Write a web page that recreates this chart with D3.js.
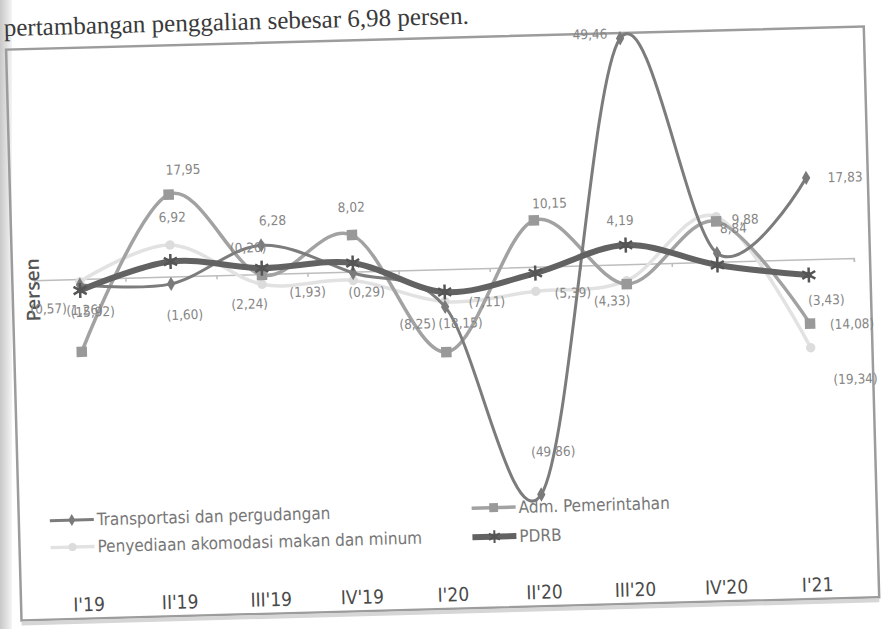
<!DOCTYPE html>
<html>
<head>
<meta charset="utf-8">
<script src="https://cdn.jsdelivr.net/npm/d3@7"></script>
<style>
  html, body { margin: 0; padding: 0; background: #fff; }
  svg { display: block; }
</style>
</head>
<body>
<svg id="chart" width="885" height="629"></svg>
<script>
// Quarterly growth (q-to-q, %) by sector
const categories = ["I'19", "II'19", "III'19", "IV'19", "I'20", "II'20", "III'20", "IV'20", "I'21"];
const transportasi = [-1.26, -1.60, 6.28, -0.29, -8.25, -49.86, 49.46, 1.88, 17.83];
const penyediaan   = [-0.57, 6.92, -2.24, -1.93, -7.11, -5.39, -3.60, 9.88, -19.34];
const admPemerintahan = [-15.92, 17.95, -0.20, 8.02, -18.15, 10.15, -4.33, 8.84, -14.08];
const pdrb = [-2.50, 3.30, 1.30, 1.90, -5.00, -1.40, 4.19, -0.70, -3.43];
const seriesNames = ["Transportasi dan pergudangan", "Penyediaan akomodasi makan dan minum", "Adm. Pemerintahan", "PDRB"];

// where each value label sits relative to its marker (null = no label)
const labelNudge = {
  transportasi: [[4, 25], [13, 31], [12, -25], [13, 19], [-28, 16], [13, -43], [-30, -5], null, [39, 0]],
  penyediaan: [[-32, 26], [3, -28], [-13, 19], [-46, 10], [42, 1], [37, 2], null, [29, 3], [44, 32]],
  adm: [[12, -40], [15, -25], [-13, -28], [0, -28], [15, -29], [16, -17], [-15, 16], [17, 7], [42, 1]],
  pdrb: [null, null, null, null, null, null, [-5, -25], null, [17, 25]]
};

const svg = d3.select("#chart");
const W = 885, H = 629;
const narrow = "'Liberation Sans Narrow','DejaVu Sans Condensed','Arial Narrow',sans-serif";

// paper shading at the left edge
const defs = svg.append("defs");
const grad = defs.append("linearGradient").attr("id", "edge").attr("x1", 0).attr("x2", 1);
grad.append("stop").attr("offset", 0).attr("stop-color", "#c8c8c8");
grad.append("stop").attr("offset", 1).attr("stop-color", "#f4f4f4");
svg.append("rect").attr("width", W).attr("height", H).attr("fill", "#fff");
svg.append("rect").attr("x", 0).attr("y", 0).attr("width", 12).attr("height", H).attr("fill", "url(#edge)");

// running text of the page above the figure
svg.append("text")
  .attr("x", 4).attr("y", 36)
  .attr("transform", "rotate(-1.5, 4, 36)")
  .attr("font-family", "'Liberation Serif','DejaVu Serif',serif")
  .attr("font-size", 25)
  .attr("fill", "#3a3a3a")
  .text("pertambangan penggalian sebesar 6,98 persen.");

const g = svg.append("g").attr("transform", "rotate(-1.55, 440, 300)");

// frame
g.append("rect").attr("x", 13).attr("y", 38).attr("width", 858).attr("height", 571)
  .attr("fill", "none").attr("stroke", "#9c9c9c").attr("stroke-width", 2.5);
g.append("line").attr("x1", 13).attr("x2", 871).attr("y1", 612).attr("y2", 612)
  .attr("stroke", "#d6d6d6").attr("stroke-width", 4);

const x = d3.scalePoint().domain(categories).range([80.5, 809.3]);
const y = d3.scaleLinear().domain([-50, 50]).range([269.3 + 228.5, 269.3 - 228.5]);
const xEdge = d3.scaleLinear().domain([0, categories.length]).range([35, 854.8]);

// zero axis with category-boundary ticks
const zeroAxis = g.append("g").attr("transform", `translate(0,${y(0)})`)
  .call(d3.axisBottom(xEdge).ticks(categories.length).tickFormat("").tickSizeInner(4).tickSizeOuter(4));
zeroAxis.selectAll("path, line").attr("stroke", "#bdbdbd").attr("stroke-width", 1.5);

// category labels along the bottom
const catAxis = g.append("g").attr("transform", "translate(0,585)")
  .call(d3.axisBottom(x).tickSize(0));
catAxis.select(".domain").remove();
catAxis.selectAll("text")
  .attr("font-family", narrow).attr("font-size", 19).attr("fill", "#4a4a4a");

// axis title
g.append("text")
  .attr("transform", "translate(40,279) rotate(-90)")
  .attr("text-anchor", "middle")
  .attr("font-family", "'Open Sans','DejaVu Sans',sans-serif")
  .attr("font-weight", 600)
  .attr("font-size", 19)
  .attr("fill", "#555")
  .text("Persen");

const fmt = v => {
  const s = d3.format(".2f")(Math.abs(v)).replace(".", ",");
  return v < 0 ? `(${s})` : s;
};

const line = d3.line()
  .x((d, i) => x(categories[i]))
  .y(d => y(d))
  .curve(d3.curveCatmullRom.alpha(0));

const series = [
  { key: "penyediaan", values: penyediaan, color: "#e2e2e2", width: 3.5, symbol: d3.symbolCircle, size: 70, marker: "#dcdcdc" },
  { key: "adm", values: admPemerintahan, color: "#a2a2a2", width: 3.5, symbol: d3.symbolSquare, size: 110, marker: "#999" },
  { key: "transportasi", values: transportasi, color: "#7c7c7c", width: 3, symbol: d3.symbolDiamond, size: 60, marker: "#7a7a7a" },
  { key: "pdrb", values: pdrb, color: "#626262", width: 6, symbol: d3.symbolAsterisk, size: 160, marker: "#555", stroked: true }
];

series.forEach(s => {
  g.append("path").datum(s.values)
    .attr("d", line)
    .attr("fill", "none")
    .attr("stroke", s.color)
    .attr("stroke-width", s.width)
    .attr("stroke-linecap", "round");
  const sym = d3.symbol().type(s.symbol).size(s.size);
  g.append("g").selectAll("path").data(s.values).join("path")
    .attr("transform", (d, i) => `translate(${x(categories[i])},${y(d)})`)
    .attr("d", sym)
    .attr("fill", s.stroked ? "none" : s.marker)
    .attr("stroke", s.stroked ? s.marker : "none")
    .attr("stroke-width", s.stroked ? 2.5 : 0);
});

// value labels
series.forEach(s => {
  const nudges = labelNudge[s.key];
  g.append("g").selectAll("text")
    .data(s.values.map((v, i) => ({ v, i, n: nudges[i] })).filter(d => d.n))
    .join("text")
    .attr("x", d => x(categories[d.i]) + d.n[0])
    .attr("y", d => y(d.v) + d.n[1])
    .attr("text-anchor", "middle")
    .attr("dominant-baseline", "central")
    .attr("font-family", narrow)
    .attr("font-size", 13.5)
    .attr("fill", "#858585")
    .text(d => fmt(d.v));
});

// legend
const legendItems = [
  { name: seriesNames[0], s: series[2], x: 44, y: 510 },
  { name: seriesNames[1], s: series[0], x: 44, y: 537 },
  { name: seriesNames[2], s: series[1], x: 466, y: 509 },
  { name: seriesNames[3], s: series[3], x: 466, y: 538 }
];
const lg = g.append("g");
legendItems.forEach(it => {
  const item = lg.append("g").attr("transform", `translate(${it.x},${it.y})`);
  item.append("line").attr("x1", 0).attr("x2", 44).attr("y1", 0).attr("y2", 0)
    .attr("stroke", it.s.color).attr("stroke-width", it.s.width);
  item.append("path").attr("transform", "translate(22,0)")
    .attr("d", d3.symbol().type(it.s.symbol).size(it.s.size * 0.7))
    .attr("fill", it.s.stroked ? "none" : it.s.marker)
    .attr("stroke", it.s.stroked ? it.s.marker : "none")
    .attr("stroke-width", it.s.stroked ? 2 : 0);
  item.append("text").attr("x", 47).attr("y", 0)
    .attr("dominant-baseline", "central")
    .attr("font-family", narrow).attr("font-size", 17).attr("fill", "#777")
    .text(it.name);
});
</script>
</body>
</html>
